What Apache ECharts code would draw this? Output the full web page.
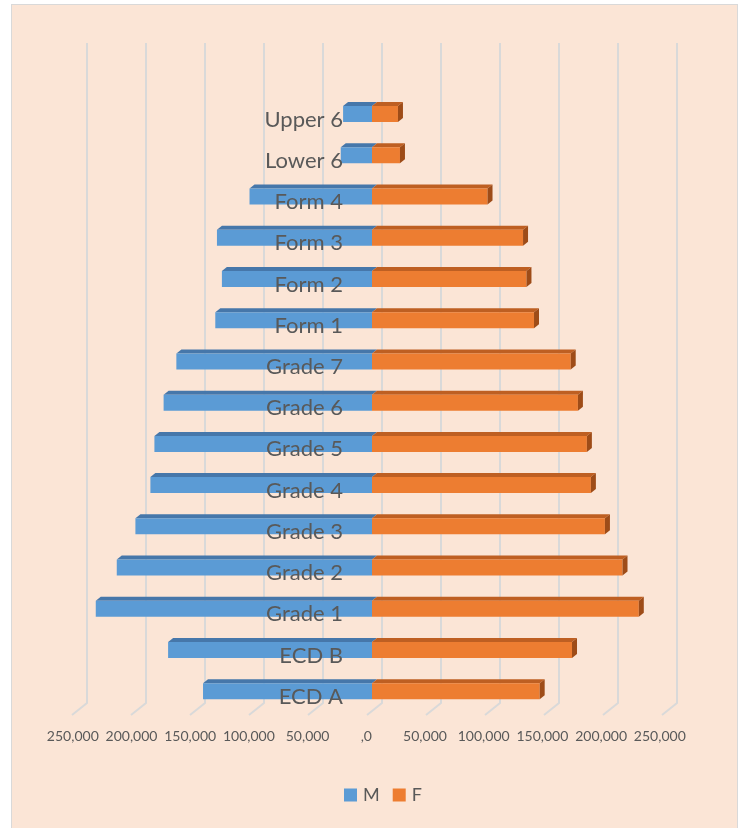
<!DOCTYPE html>
<html>
<head>
<meta charset="utf-8">
<script src="https://cdn.jsdelivr.net/npm/echarts@6/dist/echarts.min.js"></script>
<style>
  html, body { margin: 0; padding: 0; background: #ffffff; }
  #frame { position: absolute; left: 11px; top: 4px; width: 727px; height: 824px; background: #FBE5D6; border: 1.5px solid #D9D9D9; border-bottom: none; box-sizing: border-box; }
  #chart { position: absolute; left: 0; top: 0; width: 745px; height: 829px; }
</style>
</head>
<body>
<div id="frame"></div>
<div id="chart"></div>
<script>
// Categories, bottom to top
const categories = ['ECD A', 'ECD B', 'Grade 1', 'Grade 2', 'Grade 3', 'Grade 4', 'Grade 5', 'Grade 6', 'Grade 7', 'Form 1', 'Form 2', 'Form 3', 'Form 4', 'Lower 6', 'Upper 6'];
// Male and female enrolment
const maleValues   = [143200, 172800, 234100, 216300, 200500, 187800, 184400, 176600, 165800, 132800, 127200, 131400, 103800, 26500, 24500];
const femaleValues = [142100, 169500, 226100, 212300, 197400, 185500, 182100, 174500, 168400, 137300, 130900, 128000, 97900, 23700, 22000];
// Axis tick values
const tickValues = [-250000, -200000, -150000, -100000, -50000, 0, 50000, 100000, 150000, 200000, 250000];

const chart = echarts.init(document.getElementById('chart'), null, { renderer: 'canvas' });

const DX = 5, DY = 4, HALF = 8;
function makeBarRenderer(topColor, sideColor) {
  return function (params, api) {
    const cat = api.value(0);
    const val = api.value(1);
    const a = api.coord([0, cat]);
    const b = api.coord([val, cat]);
    const x0 = Math.min(a[0], b[0]);
    const x1 = Math.max(a[0], b[0]);
    const yc = a[1];
    const color = api.visual('color');
    const children = [
      { type: 'polygon', shape: { points: [[x0, yc - HALF], [x1, yc - HALF], [x1 + DX, yc - HALF - DY], [x0 + DX, yc - HALF - DY]] }, style: { fill: topColor } },
      { type: 'rect', shape: { x: x0, y: yc - HALF, width: x1 - x0, height: HALF * 2 }, style: { fill: color } }
    ];
    if (val > 0) {
      children.push({ type: 'polygon', shape: { points: [[x1, yc - HALF], [x1 + DX, yc - HALF - DY], [x1 + DX, yc + HALF - DY], [x1, yc + HALF]] }, style: { fill: sideColor } });
    }
    return { type: 'group', children: children };
  };
}

const option = {
  backgroundColor: 'transparent',
  animation: false,
  textStyle: { fontFamily: 'Lato' },
  legend: {
    data: ['M', 'F'],
    left: 339,
    top: 781,
    icon: 'rect',
    itemWidth: 13,
    itemHeight: 13,
    itemGap: 13,
    textStyle: { fontSize: 18, color: '#595959', fontFamily: 'Lato', padding: [0, 0, 0, 1] }
  },
  grid: [
    { left: 77, width: 590, top: 93.4, height: 618.5 },
    { left: 87, width: 590, top: 43, height: 660 },
    { left: 72.8, width: 587, top: 720, height: 1 }
  ],
  xAxis: [
    { type: 'value', gridIndex: 0, min: -250000, max: 250000, interval: 50000, show: false },
    { type: 'value', gridIndex: 1, min: -250000, max: 250000, interval: 50000, show: false },
    {
      type: 'value', gridIndex: 2, min: -250000, max: 250000, interval: 50000,
      axisLine: { show: false }, axisTick: { show: false }, splitLine: { show: false },
      axisLabel: {
        margin: 8, fontSize: 14, color: '#595959', fontFamily: 'Lato',
        formatter: function (v) { return v === 0 ? ',0' : Math.abs(v).toLocaleString('en-US'); }
      }
    }
  ],
  yAxis: [
    {
      type: 'category', gridIndex: 0, data: categories, z: 10,
      offset: -266,
      axisLine: { show: false }, axisTick: { show: false }, splitLine: { show: false },
      axisLabel: { margin: 0, fontSize: 22, color: '#595959', fontFamily: 'Lato', verticalAlign: 'top', lineHeight: 11 }
    },
    { type: 'value', gridIndex: 1, min: 0, max: 1, show: false },
    { type: 'value', gridIndex: 2, min: 0, max: 1, show: false }
  ],
  series: [
    {
      type: 'custom', xAxisIndex: 1, yAxisIndex: 1, silent: true, z: 1,
      itemStyle: { color: '#D9D9D9' },
      data: tickValues.map(function (v) { return [v]; }),
      encode: { x: 0 },
      renderItem: function (params, api) {
        const v = api.value(0);
        const top = api.coord([v, 1]);
        const bot = api.coord([v, 0]);
        return {
          type: 'polyline',
          shape: { points: [[top[0], top[1]], [bot[0], bot[1]], [bot[0] - 15, bot[1] + 12]] },
          style: { stroke: '#D9D9D9', lineWidth: 2, fill: null }
        };
      }
    },
    {
      name: 'M', type: 'custom', xAxisIndex: 0, yAxisIndex: 0, z: 2,
      itemStyle: { color: '#5B9BD5' },
      data: maleValues.map(function (v, i) { return [i, -v]; }),
      encode: { x: 1, y: 0 },
      renderItem: makeBarRenderer('#4677AA', '#3C6590')
    },
    {
      name: 'F', type: 'custom', xAxisIndex: 0, yAxisIndex: 0, z: 3,
      itemStyle: { color: '#ED7D31' },
      data: femaleValues.map(function (v, i) { return [i, v]; }),
      encode: { x: 1, y: 0 },
      renderItem: makeBarRenderer('#BE5F22', '#9E4C18')
    }
  ]
};
chart.setOption(option);
</script>
</body>
</html>
